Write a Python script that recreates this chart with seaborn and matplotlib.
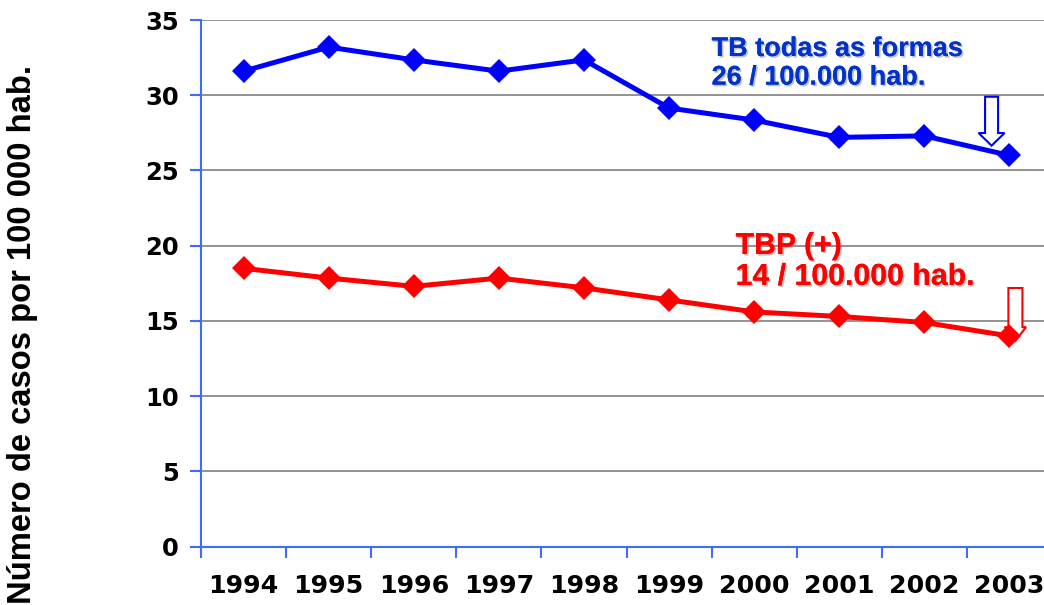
import matplotlib
matplotlib.use("Agg")
import matplotlib.pyplot as plt
import matplotlib.patheffects as pe
from matplotlib.patches import FancyArrow
import seaborn as sns
import pandas as pd
import numpy as np

years = [1994, 1995, 1996, 1997, 1998, 1999, 2000, 2001, 2002, 2003]
tb_todas = [31.6, 33.2, 32.35, 31.6, 32.35, 29.15, 28.35, 27.2, 27.3, 26.0]
tbp_pos = [18.5, 17.85, 17.3, 17.85, 17.2, 16.4, 15.6, 15.3, 14.9, 14.0]
series_names = ["TB todas as formas", "TBP (+)"]
ylabel = "Número de casos por 100 000 hab."
label_blue = "TB todas as formas\n26 / 100.000 hab."
label_red = "TBP (+)\n14 / 100.000 hab."

df = pd.DataFrame({
    "ano": years * 2,
    "taxa": tb_todas + tbp_pos,
    "serie": [series_names[0]] * len(years) + [series_names[1]] * len(years),
})

sns.set_theme(style="white")
plt.rcParams["font.family"] = ["DejaVu Sans"]
plt.rcParams["xtick.labelcolor"] = "black"
plt.rcParams["ytick.labelcolor"] = "black"

W, H = 1044, 605
fig = plt.figure(figsize=(W / 100, H / 100), dpi=100)
left, right, bottom, top = 201, 1052, 546.7, 20
ax = fig.add_axes([left / W, 1 - bottom / H, (right - left) / W, (bottom - top) / H])

blue = "#0000ff"
red = "#ff0000"
sns.lineplot(data=df, x="ano", y="taxa", hue="serie", palette=[blue, red],
             marker="D", markersize=12.5, markeredgewidth=0, linewidth=3.6,
             legend=False, ax=ax, zorder=5, clip_on=False)

ax.set_xlim(years[0] - 0.5, years[-1] + 0.5)
ax.set_ylim(0, 35)
ax.set_yticks(np.arange(0, 36, 5))
ax.yaxis.grid(True, color="#808080", linewidth=1.2)
ax.xaxis.grid(False)
ax.set_axisbelow(True)

# major ticks at category boundaries, labels at centers
ax.set_xticks(np.arange(years[0] - 0.5, years[-1] + 0.6, 1.0))
ax.set_xticklabels([])
ax.set_xticks(years, minor=True)
ax.set_xticklabels([str(y) for y in years], minor=True, fontsize=18.2, fontweight="bold",
                   color="black")
ax.tick_params(axis="x", which="major", direction="out", length=8, width=1.5,
               color="#3d6cff", bottom=True)
ax.tick_params(axis="x", which="minor", length=0, pad=20, bottom=True)
ax.tick_params(axis="y", direction="out", length=8, width=1.5, color="#3d6cff",
               left=True, labelsize=17.5, pad=8)
for lbl in ax.get_yticklabels():
    lbl.set_fontweight("bold")
    lbl.set_color("black")

for s in ["top", "right"]:
    ax.spines[s].set_visible(False)
for s in ["left", "bottom"]:
    ax.spines[s].set_color("#3d6cff")
    ax.spines[s].set_linewidth(1.5)
ax.set_xlabel("")
ax.set_ylabel("")

fig.text(23 / W, 1 - 334 / H, ylabel, rotation=90, ha="center", va="center",
         fontsize=23.6, fontweight="bold", family="Liberation Sans", color="black")

shadow = [pe.withSimplePatchShadow(offset=(1.2, -1.2), shadow_rgbFace="#888888", alpha=0.5), pe.Normal()]
ax.text(years[0] + (711 - 243) / 85.1, 35 - (36 - 20) / 15.05, label_blue, ha="left", va="top",
        fontsize=19.5, fontweight="bold", family="Liberation Sans", color="#0033cc",
        linespacing=1.13, path_effects=shadow)
ax.text(years[0] + (735 - 243) / 85.1, 35 - (232 - 20) / 15.05, label_red, ha="left", va="top",
        fontsize=21.8, fontweight="bold", family="Liberation Sans", color=red,
        linespacing=1.13, path_effects=shadow)

# hollow down arrows
ax.add_patch(FancyArrow(years[0] + 8.79, 29.9, 0, -3.25, width=0.153, head_width=0.305,
                        head_length=0.84, length_includes_head=True, fc="white",
                        ec=blue, lw=1.5, zorder=3))
ax.add_patch(FancyArrow(years[0] + 9.07, 17.19, 0, -3.5, width=0.165, head_width=0.25,
                        head_length=0.9, length_includes_head=True, fc="white",
                        ec=red, lw=1.5, zorder=3, clip_on=False))

fig.savefig("out.png", dpi=100)
